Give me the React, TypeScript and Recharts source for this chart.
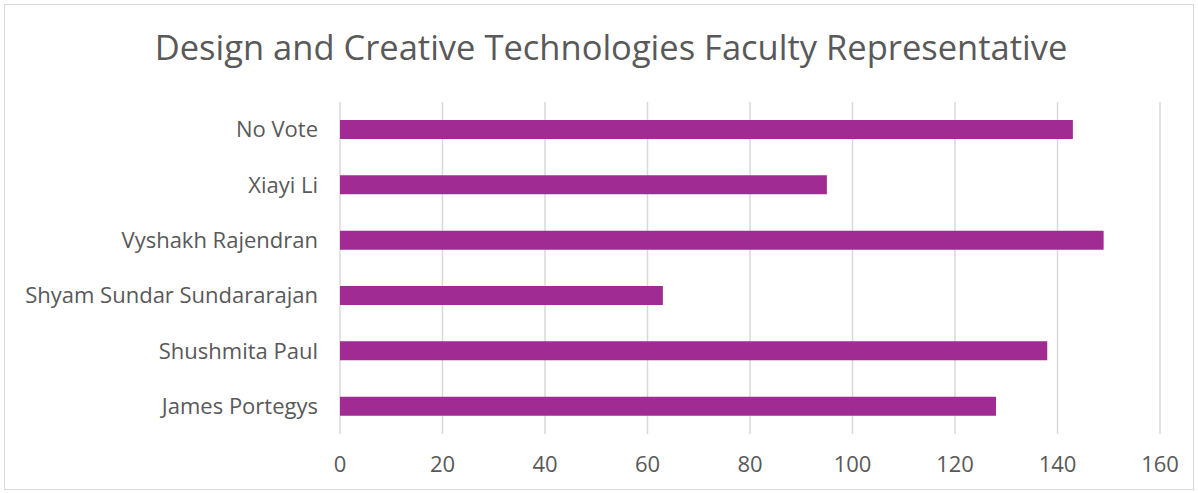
import { Bar, BarChart, CartesianGrid, XAxis, YAxis } from "recharts";

const candidates = [
  "No Vote",
  "Xiayi Li",
  "Vyshakh Rajendran",
  "Shyam Sundar Sundararajan",
  "Shushmita Paul",
  "James Portegys",
];
const votes = [143, 95, 149, 63, 138, 128];
const xTicks = [0, 20, 40, 60, 80, 100, 120, 140, 160];

const data = candidates.map((name, i) => ({ name, votes: votes[i] }));

const font = "'Open Sans', sans-serif";

export default function App() {
  return (
    <div
      style={{
        position: "absolute",
        left: 4,
        top: 4,
        width: 1188,
        height: 484,
        border: "1px solid #d9d9d9",
        background: "#fff",
        fontFamily: font,
      }}
    >
      <div
        style={{
          position: "absolute",
          top: 18,
          left: 12,
          width: "100%",
          textAlign: "center",
          fontSize: 34.5,
          lineHeight: "48px",
          color: "#595959",
        }}
      >
        Design and Creative Technologies Faculty Representative
      </div>
      <BarChart
        width={1188}
        height={484}
        data={data}
        layout="vertical"
        margin={{ top: 97, right: 33, bottom: 0, left: 0 }}
      >
        <CartesianGrid horizontal={false} stroke="#d9d9d9" strokeWidth={1.5} />
        <XAxis
          type="number"
          domain={[0, 160]}
          ticks={xTicks}
          height={55}
          axisLine={false}
          tickLine={false}
          tickSize={0}
          tickMargin={22}
          tick={{ fontSize: 22, fill: "#595959", fontFamily: font }}
        />
        <YAxis
          type="category"
          dataKey="name"
          width={335}
          axisLine={false}
          tickLine={false}
          tickSize={0}
          tickMargin={22}
          tick={{ fontSize: 22, fill: "#595959", fontFamily: font }}
        />
        <Bar dataKey="votes" fill="#a02b93" barSize={19} isAnimationActive={false} />
      </BarChart>
    </div>
  );
}
